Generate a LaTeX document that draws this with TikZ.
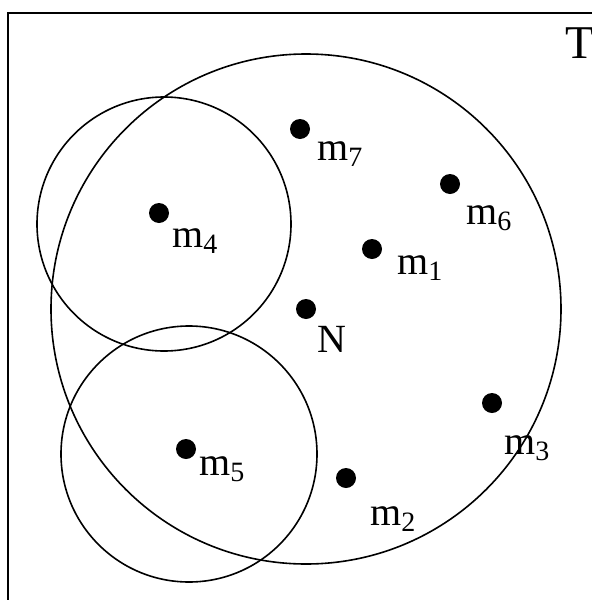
\documentclass[tikz,border=0pt]{standalone}
\usepackage{fontspec}
\setmainfont{Liberation Serif}
\usetikzlibrary{positioning}

\begin{document}
\begin{tikzpicture}[
    x=0.5pt, y=-0.5pt,
    dot/.style={circle, fill=black, inner sep=0pt, minimum size=10pt},
    lbl/.style={inner sep=0pt, font=\fontsize{20}{24}\selectfont},
    ring/.style={draw, line width=0.8pt},
    frame/.style={draw, line width=1.3pt}
]
\useasboundingbox[clip] (0,0) rectangle (592,600);

% Frame and title
\draw[frame] (8,13) rectangle (700,700);
\node[lbl, anchor=north west, font=\fontsize{23.5}{28}\selectfont] (title) at (565,27) {T};

% Ranges
\draw[ring] (306,309) circle[radius=255];
\draw[ring] (164,224) circle[radius=127];
\draw[ring] (189,454) circle[radius=128];

% Points
\node[dot] (N)  at (306,309) {};
\node[dot] (m1) at (372,249) {};
\node[dot] (m2) at (346,478) {};
\node[dot] (m3) at (492,403) {};
\node[dot] (m4) at (159,213) {};
\node[dot] (m5) at (186,449) {};
\node[dot] (m6) at (450,184) {};
\node[dot] (m7) at (300,129) {};

% Labels
\node[lbl, below right=4.75pt and 1.75pt of N] (lN) {N};
\node[lbl, below right=-0.75pt and 8.75pt of m1] (l1) {m\textsubscript{1}};
\node[lbl, below right=10.25pt and 8.25pt of m2] (l2) {m\textsubscript{2}};
\node[lbl, below right=12.25pt and 2.25pt of m3] (l3) {m\textsubscript{3}};
\node[lbl, below right=3.75pt and 2.75pt of m4] (l4) {m\textsubscript{4}};
\node[lbl, below right=-0.25pt and 2.75pt of m5] (l5) {m\textsubscript{5}};
\node[lbl, below right=6.75pt and 4.25pt of m6] (l6) {m\textsubscript{6}};
\node[lbl, below right=2.25pt and 4.75pt of m7] (l7) {m\textsubscript{7}};

\end{tikzpicture}
\end{document}
